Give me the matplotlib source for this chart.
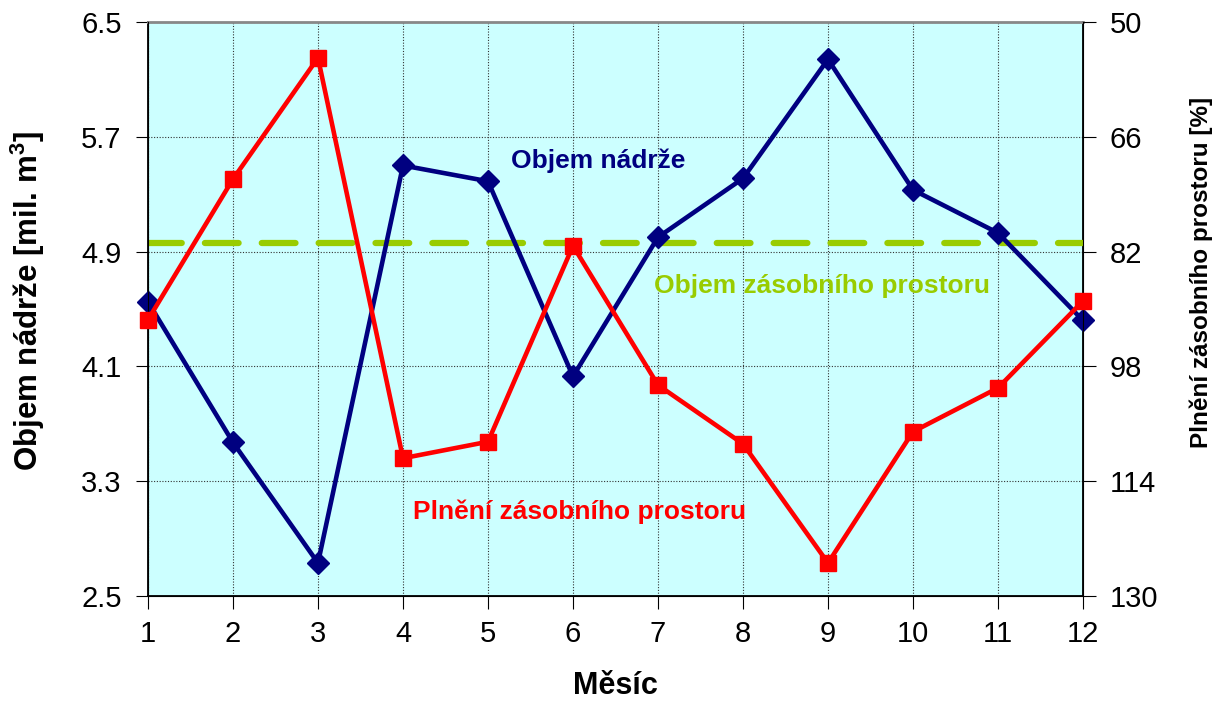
import matplotlib.pyplot as plt
import numpy as np

plt.rcParams['font.family'] = ['Liberation Sans', 'DejaVu Sans']

mesice = np.arange(1, 13)
objem = [4.55, 3.57, 2.73, 5.50, 5.39, 4.03, 5.00, 5.41, 6.24, 5.33, 5.03, 4.42]
plneni = [91.5, 71.9, 55.0, 110.8, 108.5, 81.2, 100.6, 108.8, 125.4, 107.1, 101.0, 88.9]
objem_zasobni = 4.96

left_ticks = [2.5, 3.3, 4.1, 4.9, 5.7, 6.5]
right_ticks = [50, 66, 82, 98, 114, 130]

fig = plt.figure(figsize=(12.2, 7.02), dpi=100)
ax = fig.add_axes([0.1213, 0.151, 0.7664, 0.8177])
ax.set_facecolor('#CCFFFF')

# objem nadrze na leve ose
ax.plot(mesice, objem, color='#000080', lw=3.3, marker='D', ms=11, zorder=4, clip_on=False)
ax.axhline(objem_zasobni, color='#99CC00', lw=4.5, dashes=(5.4, 3.7),
           dash_capstyle='round', zorder=3)

ax.set_xlim(1, 12)
ax.set_ylim(2.5, 6.5)
ax.set_xticks(mesice)
ax.set_yticks(left_ticks)
ax.set_yticklabels([f'{v:.1f}' for v in left_ticks])
ax.grid(True, color='#333333', ls=(0, (1, 1.5)), lw=0.8)
ax.tick_params(labelsize=21, length=9, direction='out')
ax.tick_params(axis='y', pad=10)
ax.tick_params(axis='x', pad=8)
ax.spines['top'].set_color('#888888')
ax.spines['top'].set_linewidth(2)
for s in ['left', 'bottom', 'right']:
    ax.spines[s].set_linewidth(1.3)

ax.set_xlabel('Měsíc', fontsize=22, fontweight='bold', va='center')
ax.xaxis.set_label_coords(0.5, -0.157)
ax.set_ylabel('Objem nádrže [mil. m$^\\mathregular{3}$]', fontsize=22.5, fontweight='bold',
              va='center')
ax.yaxis.set_label_coords(-0.129, 0.514)

# plneni zasobniho prostoru na prave (obracene) ose
ax2 = ax.twinx()
ax2.plot(mesice, plneni, color='#FF0000', lw=3.3, marker='s', ms=11, zorder=4, clip_on=False)
ax2.set_ylim(130, 50)
ax2.set_yticks(right_ticks)
ax2.tick_params(labelsize=21, length=9, direction='out', pad=10)
ax2.set_ylabel('Plnění zásobního prostoru [%]', fontsize=17.5, fontweight='bold', va='center')
ax2.yaxis.set_label_coords(1.126, 0.564)
ax2.spines['top'].set_visible(False)

ax.text(0.482, 0.758, 'Objem nádrže', color='#000080', fontsize=19, fontweight='bold',
        ha='center', va='center', transform=ax.transAxes)
ax.text(0.721, 0.540, 'Objem zásobního prostoru', color='#99CC00', fontsize=19,
        fontweight='bold', ha='center', va='center', transform=ax.transAxes)
ax.text(0.462, 0.146, 'Plnění zásobního prostoru', color='#FF0000', fontsize=19,
        fontweight='bold', ha='center', va='center', transform=ax.transAxes)

fig.savefig('out.png', dpi=100)
